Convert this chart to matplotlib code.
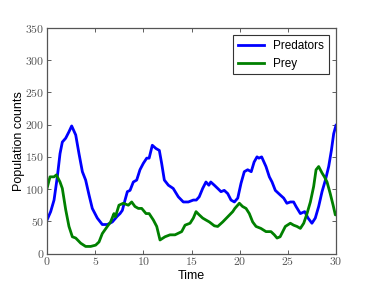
import matplotlib
matplotlib.use("Agg")
import matplotlib.pyplot as plt
from matplotlib.ticker import FuncFormatter

plt.rcParams['mathtext.fontset'] = 'cm'
plt.rcParams['font.family'] = ['Liberation Sans', 'DejaVu Sans']

pred_t = [0, 0.38, 0.73, 1.07, 1.35, 1.59, 1.94, 2.28, 2.56, 2.98, 3.32, 3.67, 4.01, 4.36, 4.70,
          5.22, 5.74, 6.26, 6.78, 7.3, 7.58, 7.82, 8.1, 8.34, 8.62, 8.96, 9.31, 9.65, 10.0, 10.35,
          10.6, 10.93, 11.31, 11.66, 11.9, 12.18, 12.6, 13.1, 13.63, 14.15, 14.67, 15.19, 15.5,
          15.8, 16.16, 16.5, 16.8, 17.0, 17.37, 17.72, 18.06, 18.4, 18.76, 19.1, 19.45, 19.8,
          20.14, 20.48, 20.83, 21.2, 21.5, 21.8, 22.0, 22.28, 22.73, 23.08, 23.36, 23.7, 24.2,
          24.57, 24.9, 25.26, 25.6, 25.85, 26.3, 26.75, 27.1, 27.5, 27.85, 28.2, 28.55, 28.9,
          29.24, 29.52, 29.76, 30.0]
pred_v = [52, 65, 83, 119, 155, 173, 179, 189, 198, 184, 155, 127, 114, 91, 70,
          55, 45, 45, 49, 58, 62, 67, 83, 96, 98, 111, 114, 130, 140, 148,
          148, 168, 163, 160, 140, 114, 106, 101, 88, 80, 80, 83, 83,
          88, 101, 111, 106, 111, 106, 101, 96, 98, 93, 83, 80, 86,
          109, 127, 130, 127, 142, 150, 148, 150, 135, 119, 111, 98, 91,
          86, 78, 80, 80, 73, 62, 65, 55, 47, 55, 73, 96, 114,
          135, 160, 186, 199]

prey_t = [0, 0.31, 0.73, 0.97, 1.35, 1.59, 1.94, 2.28, 2.63, 2.98, 3.5, 4.01, 4.53, 5.05, 5.4,
          5.74, 6.26, 6.6, 6.95, 7.1, 7.47, 7.92, 8.44, 8.79, 9.13, 9.48, 9.83, 10.28, 10.6,
          11.04, 11.39, 11.73, 12.25, 12.77, 13.29, 13.98, 14.33, 14.85, 15.19, 15.47, 15.8,
          16.16, 16.5, 16.85, 17.37, 17.72, 18.24, 18.76, 19.28, 19.5, 19.97, 20.3, 20.66, 21.0,
          21.35, 21.7, 22.2, 22.73, 23.25, 23.6, 23.88, 24.2, 24.74, 25.26, 25.6, 25.95, 26.3,
          26.65, 26.99, 27.34, 27.68, 27.93, 28.2, 28.55, 28.8, 29.07, 29.4, 29.7, 29.93, 30.0]
prey_v = [101, 119, 119, 122, 111, 101, 68, 42, 26, 24, 16, 11, 11, 13, 18,
          31, 42, 49, 62, 57, 75, 78, 75, 80, 73, 70, 70, 62, 62,
          52, 42, 21, 26, 29, 29, 34, 44, 47, 55, 65, 60,
          55, 52, 49, 43, 42, 49, 57, 65, 70, 78, 73, 70, 62,
          49, 42, 39, 34, 34, 29, 24, 26, 42, 47, 44, 42, 39,
          47, 62, 80, 104, 130, 135, 125, 119, 111, 93, 75, 60, 60]

xticks = [0, 5, 10, 15, 20, 25, 30]
yticks = [0, 50, 100, 150, 200, 250, 300, 350]

fig = plt.figure(figsize=(3.74, 2.82), dpi=100)
ax = fig.add_axes([0.1257, 0.101, 0.7727, 0.7997])
ax.plot(pred_t, pred_v, color='#0000ff', lw=2, label='Predators')
ax.plot(prey_t, prey_v, color='#008000', lw=2, label='Prey')
ax.set_xlim(0, 30)
ax.set_ylim(0, 350)
ax.set_xticks(xticks)
ax.set_yticks(yticks)
fmt = FuncFormatter(lambda v, p: r'$%d$' % v)
ax.xaxis.set_major_formatter(fmt)
ax.yaxis.set_major_formatter(fmt)
ax.tick_params(direction='in', top=True, right=True, length=3, width=0.6,
               labelsize=8.5, colors='#444444', labelcolor='#555555', pad=2)
for s in ax.spines.values():
    s.set_color('#555555')
    s.set_linewidth(0.9)
ax.set_xlabel('Time', fontsize=9, labelpad=1)
ax.set_ylabel('Population counts', fontsize=9, labelpad=0)
leg = ax.legend(loc='upper right', fontsize=8.5, fancybox=False, framealpha=1,
                edgecolor='#333333', handlelength=2.2, borderaxespad=0.6)
leg.get_frame().set_linewidth(0.8)
fig.savefig('out.png', dpi=100)
